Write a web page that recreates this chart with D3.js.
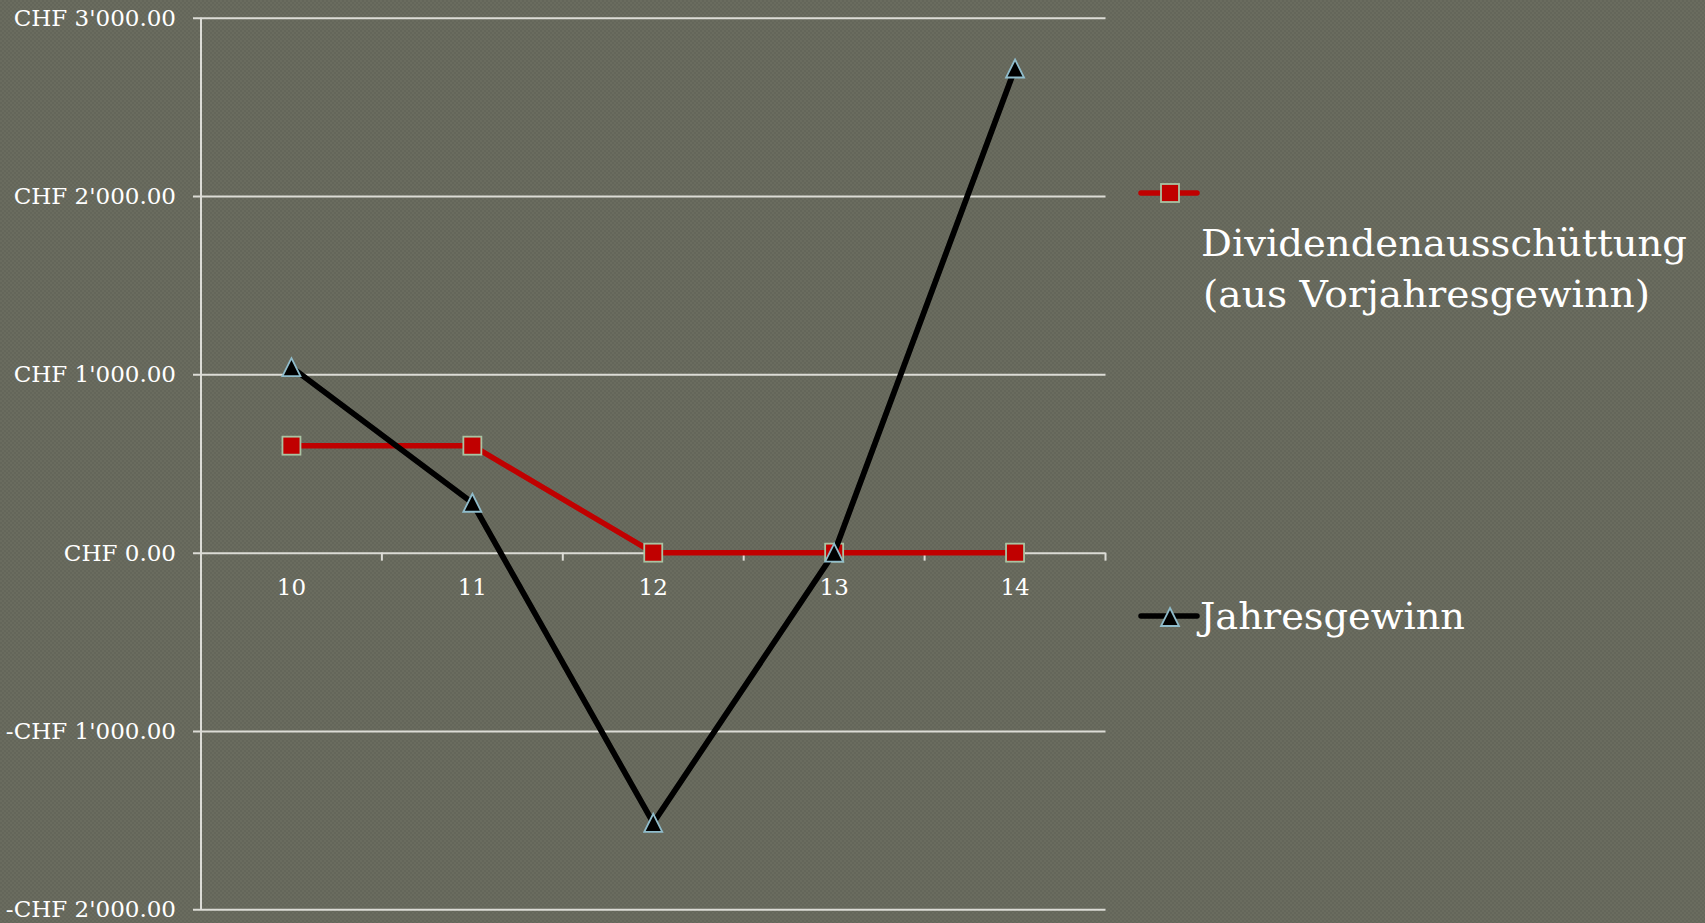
<!DOCTYPE html>
<html>
<head>
<meta charset="utf-8">
<script src="https://cdn.jsdelivr.net/npm/d3@7"></script>
<style>
  html, body { margin: 0; padding: 0; background: #65675a; }
  svg { display: block; }
  text { font-family: "DejaVu Serif", "Liberation Serif", serif; fill: #ffffff; }
</style>
</head>
<body>
<svg id="chart" width="1705" height="923"></svg>
<script>
// Years (short form) on the category axis
const years = ["10", "11", "12", "13", "14"];
// Dividend paid out of the previous year's profit (CHF)
const dividende = [600, 600, 0, 0, 0];
// Annual profit (CHF)
const jahresgewinn = [1040, 280, -1515, 0, 2715];
// Value axis ticks
const yTicks = [-2000, -1000, 0, 1000, 2000, 3000];

const seriesNames = ["Dividendenausschüttung\n(aus Vorjahresgewinn)", "Jahresgewinn"];

const W = 1705, H = 923;
const plot = { left: 201, right: 1105.5, top: 17.7, bottom: 909.3 };

const svg = d3.select("#chart");

// subtle woven background texture
const defs = svg.append("defs");
const pat = defs.append("pattern")
  .attr("id", "weave").attr("width", 4).attr("height", 4)
  .attr("patternUnits", "userSpaceOnUse");
pat.append("rect").attr("width", 4).attr("height", 4).attr("fill", "#64665a");
pat.append("rect").attr("x", 0).attr("y", 0).attr("width", 2).attr("height", 2).attr("fill", "#6a6c5f");
pat.append("rect").attr("x", 2).attr("y", 2).attr("width", 2).attr("height", 2).attr("fill", "#6a6c5f");
svg.append("rect").attr("width", W).attr("height", H).attr("fill", "url(#weave)");

const x = d3.scaleBand().domain(years).range([plot.left, plot.right]).padding(0);
const y = d3.scaleLinear().domain([-2000, 3000]).range([plot.bottom, plot.top]);
const cx = d => x(d) + x.bandwidth() / 2;

const chf = d3.formatLocale({
  decimal: ".", thousands: "'", grouping: [3], currency: ["CHF ", ""], minus: "-"
}).format("$,.2f");

const gridColor = "#dcdcd6";

// horizontal gridlines with outward tick marks and value labels
const yAxis = d3.axisLeft(y)
  .tickValues(yTicks)
  .tickFormat(chf)
  .tickSize(-(plot.right - plot.left))
  .tickSizeOuter(0)
  .tickPadding(25);
const gy = svg.append("g").attr("transform", `translate(${plot.left},0)`).call(yAxis);
gy.select(".domain").remove();
gy.selectAll(".tick line")
  .attr("x1", -8)
  .attr("stroke", gridColor).attr("stroke-width", 2);
gy.selectAll(".tick text")
  .attr("fill", "#fff")
  .style("font-family", '"DejaVu Serif", serif')
  .style("font-size", "23px")
  .attr("x", -25);

// vertical value axis line
svg.append("line")
  .attr("x1", plot.left).attr("x2", plot.left)
  .attr("y1", y(3000)).attr("y2", y(-2000))
  .attr("stroke", gridColor).attr("stroke-width", 2);

// category axis at zero with ticks between categories
const xAxis = d3.axisBottom(x).tickSize(0).tickPadding(0);
const gx = svg.append("g").attr("transform", `translate(0,${y(0)})`).call(xAxis);
gx.select(".domain").remove();
gx.selectAll(".tick text")
  .attr("y", 42)
  .attr("dy", 0)
  .attr("fill", "#fff")
  .style("font-family", '"DejaVu Serif", serif')
  .style("font-size", "23px");
const bounds = years.map(d => x(d)).concat([plot.right]);
svg.append("g").selectAll("line").data(bounds).join("line")
  .attr("x1", d => d).attr("x2", d => d)
  .attr("y1", y(0)).attr("y2", y(0) + 8)
  .attr("stroke", gridColor).attr("stroke-width", 2);

// series
const lineGen = d3.line().x(d => cx(d.year)).y(d => y(d.v));
const redData = years.map((yr, i) => ({ year: yr, v: dividende[i] }));
const blackData = years.map((yr, i) => ({ year: yr, v: jahresgewinn[i] }));

const redColor = "#c00000", squareStroke = "#a9c3a3";
const blackColor = "#000000", triStroke = "#8fbccb";
const sq = 18;
const triPath = (s) => `M0,${-s / 2}L${s / 2},${s / 2}L${-s / 2},${s / 2}Z`;

svg.append("path").datum(redData)
  .attr("d", lineGen).attr("fill", "none")
  .attr("stroke", redColor).attr("stroke-width", 5.5)
  .attr("stroke-linejoin", "round").attr("stroke-linecap", "round");
svg.append("g").selectAll("rect").data(redData).join("rect")
  .attr("x", d => cx(d.year) - sq / 2).attr("y", d => y(d.v) - sq / 2)
  .attr("width", sq).attr("height", sq)
  .attr("fill", redColor).attr("stroke", squareStroke).attr("stroke-width", 1.8);

svg.append("path").datum(blackData)
  .attr("d", lineGen).attr("fill", "none")
  .attr("stroke", blackColor).attr("stroke-width", 5.8)
  .attr("stroke-linejoin", "round").attr("stroke-linecap", "round");
svg.append("g").selectAll("path").data(blackData).join("path")
  .attr("d", triPath(18))
  .attr("transform", d => `translate(${cx(d.year)},${y(d.v)})`)
  .attr("fill", blackColor).attr("stroke", triStroke).attr("stroke-width", 1.8);

// legend
const leg = svg.append("g");
// entry 1
leg.append("line").attr("x1", 1141).attr("x2", 1197).attr("y1", 193).attr("y2", 193)
  .attr("stroke", redColor).attr("stroke-width", 5.5).attr("stroke-linecap", "round");
leg.append("rect").attr("x", 1170 - sq / 2).attr("y", 193 - sq / 2).attr("width", sq).attr("height", sq)
  .attr("fill", redColor).attr("stroke", squareStroke).attr("stroke-width", 1.8);
const lines1 = seriesNames[0].split("\n");
leg.append("text").attr("x", 1201).attr("y", 256)
  .style("font-size", "38px").attr("textLength", 486).attr("lengthAdjust", "spacingAndGlyphs")
  .text(lines1[0]);
leg.append("text").attr("x", 1203).attr("y", 306.5)
  .style("font-size", "38px").attr("textLength", 447).attr("lengthAdjust", "spacingAndGlyphs")
  .text(lines1[1]);
// entry 2
leg.append("line").attr("x1", 1141).attr("x2", 1197).attr("y1", 616).attr("y2", 616)
  .attr("stroke", blackColor).attr("stroke-width", 5.5).attr("stroke-linecap", "round");
leg.append("path").attr("d", triPath(18)).attr("transform", "translate(1170,617)")
  .attr("fill", blackColor).attr("stroke", triStroke).attr("stroke-width", 1.8);
leg.append("text").attr("x", 1200).attr("y", 628.5)
  .style("font-size", "38px").attr("textLength", 265).attr("lengthAdjust", "spacingAndGlyphs")
  .text(seriesNames[1]);
</script>
</body>
</html>
